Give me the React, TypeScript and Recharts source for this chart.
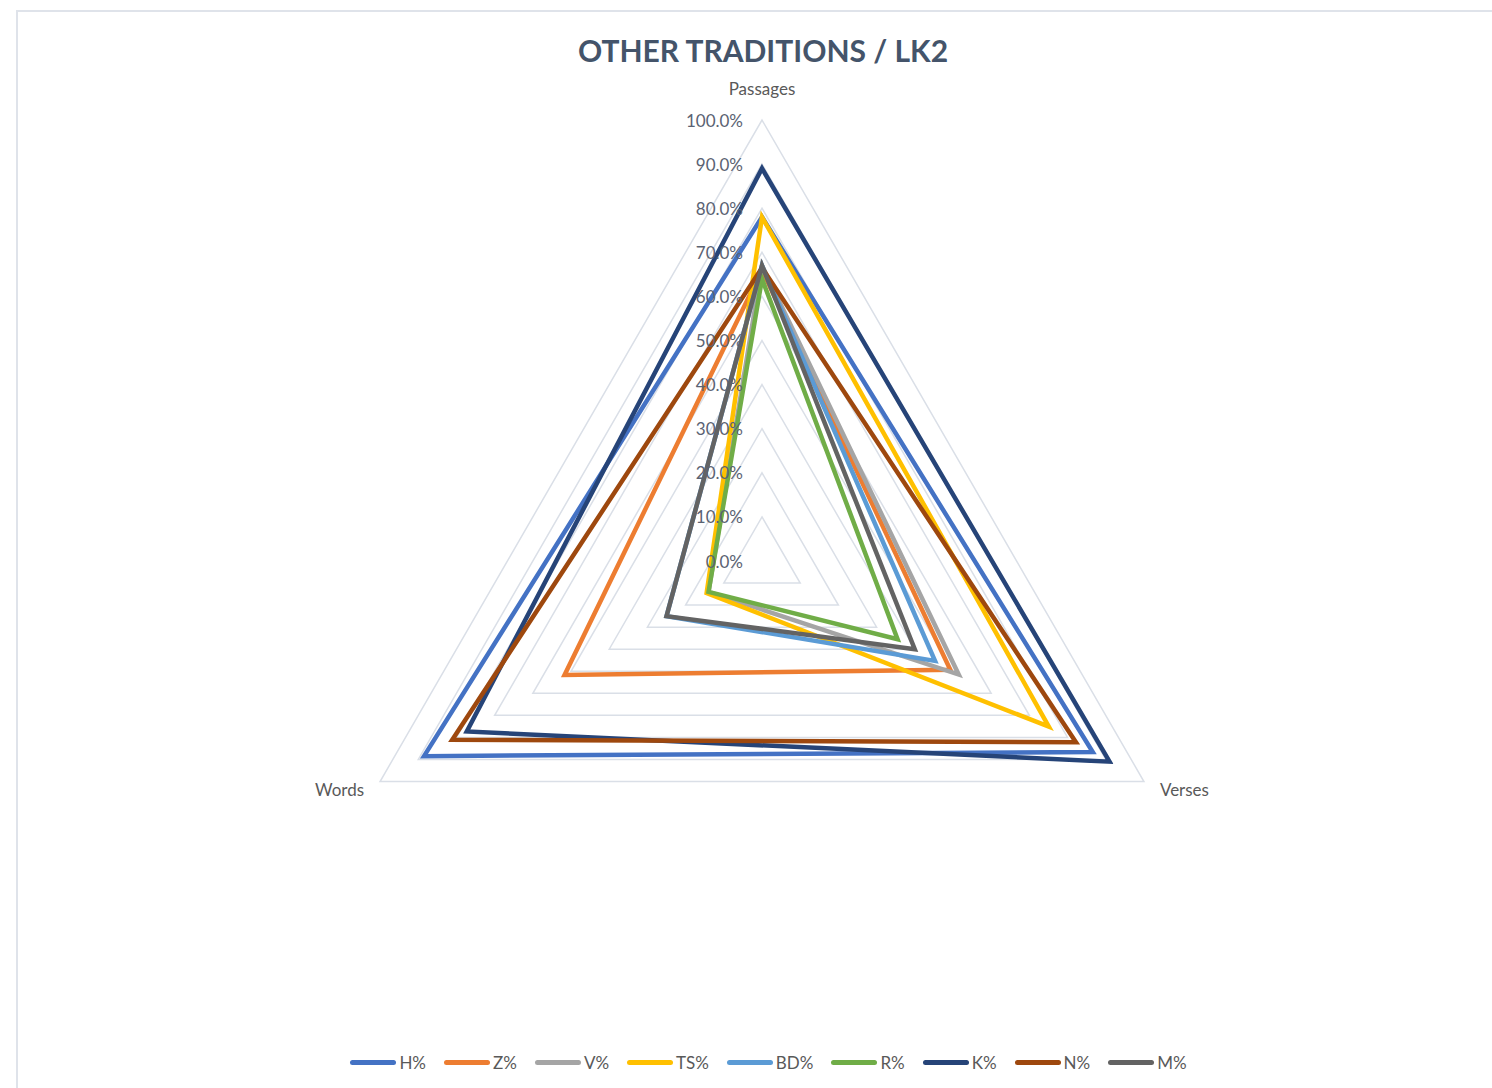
import React from 'react';
import {
  RadarChart, Radar, PolarGrid, PolarAngleAxis, PolarRadiusAxis, Legend,
} from 'recharts';

const CATEGORIES = ['Passages', 'Verses', 'Words'];

const H = [0.78, 0.866, 0.885];
const Z = [0.66, 0.493, 0.517];
const V = [0.67, 0.515, 0.14];
const TS = [0.78, 0.751, 0.145];
const BD = [0.67, 0.453, 0.25];
const R = [0.64, 0.355, 0.14];
const K = [0.89, 0.91, 0.773];
const N = [0.665, 0.822, 0.811];
const M = [0.67, 0.40, 0.25];

const SERIES = [
  { key: 'H%', values: H, color: '#4472C4' },
  { key: 'Z%', values: Z, color: '#ED7D31' },
  { key: 'V%', values: V, color: '#A5A5A5' },
  { key: 'TS%', values: TS, color: '#FFC000' },
  { key: 'BD%', values: BD, color: '#5B9BD5' },
  { key: 'R%', values: R, color: '#70AD47' },
  { key: 'K%', values: K, color: '#264478' },
  { key: 'N%', values: N, color: '#9E480E' },
  { key: 'M%', values: M, color: '#636363' },
];

const RADIUS_TICKS = [0, 0.1, 0.2, 0.3, 0.4, 0.5, 0.6, 0.7, 0.8, 0.9, 1];

const data = CATEGORIES.map((axis, i) => {
  const row: Record<string, any> = { axis };
  SERIES.forEach((s) => { row[s.key] = s.values[i]; });
  return row;
});

const CX = 762;
const CY = 561;
const OUTER = 441;
const FONT = 'Lato, "Open Sans", sans-serif';
const TEXT = '#595959';

const AngleTick = (props: any) => {
  const { payload } = props;
  const a = (payload.coordinate * Math.PI) / 180;
  const vx = CX + OUTER * Math.cos(a);
  const vy = CY - OUTER * Math.sin(a);
  let x = vx;
  let y = vy - 32;
  let anchor: 'middle' | 'start' | 'end' = 'middle';
  if (Math.cos(a) < -0.1) { x = vx - 16; y = vy + 8; anchor = 'end'; }
  else if (Math.cos(a) > 0.1) { x = vx + 16; y = vy + 8; anchor = 'start'; }
  return (
    <text x={x} y={y} textAnchor={anchor} dominantBaseline="central"
      fill={TEXT} fontSize={17} fontFamily={FONT}>
      {payload.value}
    </text>
  );
};

const RadiusTick = (props: any) => {
  const { x, y, payload } = props;
  return (
    <text x={x - 19} y={y} textAnchor="end" dominantBaseline="central"
      fill="#5a6272" fontSize={17} fontFamily={FONT}>
      {(payload.value * 100).toFixed(1)}%
    </text>
  );
};

// keep series order (recharts sorts legend items by default)
const LegendContent = () => (
  <div style={{ display: 'flex', justifyContent: 'center', alignItems: 'center', fontFamily: FONT, fontSize: 17, color: TEXT }}>
    {SERIES.map((s, i) => (
      <div key={s.key} style={{ display: 'flex', alignItems: 'center', marginRight: i < SERIES.length - 1 ? 18 : 0 }}>
        <div style={{ width: 46, height: 5, borderRadius: 3, background: s.color, marginRight: 3 }} />
        <span>{s.key}</span>
      </div>
    ))}
  </div>
);

export default function App() {
  return (
    <div style={{ position: 'absolute', left: 0, top: 0, width: 1492, height: 1088, overflow: 'hidden', background: '#fff' }}>
      <div style={{
        position: 'absolute', left: 16, top: 10, width: 1500, height: 1100,
        border: '2px solid #dfe3ea', boxSizing: 'border-box',
      }} />
      <div style={{
        position: 'absolute', left: 0, top: 30, width: 1526, textAlign: 'center',
        fontFamily: FONT, fontWeight: 700, fontSize: 30, color: '#44546A', lineHeight: '40px',
      }}>
        OTHER TRADITIONS / LK2
      </div>
      <RadarChart width={1492} height={1088} data={data} cx={CX} cy={CY} outerRadius={OUTER}
        style={{ position: 'absolute', left: 0, top: 0 }}>
        <PolarGrid gridType="polygon" radialLines={false} stroke="#dadfe7" strokeWidth={1.5} />
        <PolarAngleAxis dataKey="axis" tick={<AngleTick />} tickLine={false} axisLine={false} />
        <PolarRadiusAxis angle={90} domain={[0, 1]} ticks={RADIUS_TICKS as any} tickCount={11}
          axisLine={false} tickLine={false} tick={<RadiusTick />} />
        {SERIES.map((s) => (
          <Radar key={s.key} name={s.key} dataKey={s.key} stroke={s.color} strokeWidth={4.5}
            fill="none" fillOpacity={0} dot={false} isAnimationActive={false} />
        ))}
        <Legend content={<LegendContent />}
          wrapperStyle={{ top: 1052, left: 0, width: 1537 }} />
      </RadarChart>
    </div>
  );
}
